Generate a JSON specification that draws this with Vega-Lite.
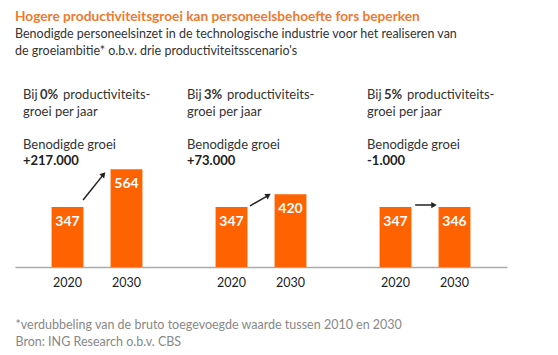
{
  "$schema": "https://vega.github.io/schema/vega-lite/v6.json",
  "width": 492,
  "height": 187,
  "autosize": {"type": "none"},
  "padding": {"left": 15, "top": 80, "right": 51, "bottom": 88},
  "background": "white",
  "config": {"view": {"stroke": null}, "font": "Lato", "text": {"font": "Lato"}},
  "title": {
    "text": "Hogere productiviteitsgroei kan personeelsbehoefte fors beperken",
    "subtitle": ["Benodigde personeelsinzet in de technologische industrie voor het realiseren van", "de groeiambitie*  o.b.v. drie productiviteitsscenario's"],
    "anchor": "start",
    "frame": "group",
    "color": "#EE7A30",
    "font": "Lato",
    "fontSize": 13.7,
    "fontWeight": "bold",
    "subtitleFont": "Lato",
    "subtitleFontSize": 12.5,
    "subtitleColor": "#333333",
    "subtitleLineHeight": 17,
    "subtitlePadding": 4,
    "offset": 23
  },
  "datasets": {
    "bars": [
      {"panel": "0%", "year": "2020", "value": 347},
      {"panel": "0%", "year": "2030", "value": 564},
      {"panel": "3%", "year": "2020", "value": 347},
      {"panel": "3%", "year": "2030", "value": 420},
      {"panel": "5%", "year": "2020", "value": 347},
      {"panel": "5%", "year": "2030", "value": 346}
    ],
    "panels": [
      {"panel": "0%", "growth": "+217.000"},
      {"panel": "3%", "growth": "+73.000"},
      {"panel": "5%", "growth": "-1.000"}
    ]
  },
  "data": {"name": "bars"},
  "layer": [
    {
      "mark": {"type": "bar", "color": "#FF6200"},
      "encoding": {
        "x": {
          "field": "panel", "type": "nominal", "sort": ["0%", "3%", "5%"],
          "scale": {"paddingInner": 0, "paddingOuter": 0},
          "axis": {
            "title": ["*verdubbeling van de bruto toegevoegde waarde tussen 2010 en 2030", "Bron: ING Research o.b.v. CBS"],
            "labels": false, "ticks": false,
            "domainColor": "#AAAAAA", "domainWidth": 1.5,
            "titleAnchor": "start", "titleAlign": "left", "titleBaseline": "top",
            "titlePadding": 51, "titleFont": "Lato", "titleFontSize": 12.5,
            "titleFontWeight": "normal", "titleColor": "#888888", "titleLineHeight": 17
          }
        },
        "xOffset": {"field": "year", "type": "nominal", "scale": {"paddingInner": 0.46, "paddingOuter": 0.62}},
        "y": {"field": "value", "type": "quantitative", "scale": {"domain": [0, 1080], "nice": false}, "axis": null}
      }
    },
    {
      "mark": {"type": "text", "color": "white", "fontWeight": "bold", "fontSize": 14, "baseline": "middle", "dy": 15},
      "encoding": {
        "x": {"field": "panel", "type": "nominal", "sort": ["0%", "3%", "5%"]},
        "xOffset": {"field": "year", "type": "nominal"},
        "y": {"field": "value", "type": "quantitative", "scale": {"domain": [0, 1080], "nice": false}, "axis": null},
        "text": {"field": "value", "type": "nominal"}
      }
    },
    {
      "mark": {"type": "text", "color": "#222222", "fontSize": 12.5, "baseline": "middle", "dy": 16},
      "encoding": {
        "x": {"field": "panel", "type": "nominal", "sort": ["0%", "3%", "5%"]},
        "xOffset": {"field": "year", "type": "nominal"},
        "y": {"datum": 0, "type": "quantitative", "scale": {"domain": [0, 1080], "nice": false}, "axis": null},
        "text": {"field": "year", "type": "nominal"}
      }
    },
    {
      "transform": [{"pivot": "year", "value": "value", "groupby": ["panel"]}],
      "layer": [
        {
          "transform": [{"filter": "datum.panel === '0%'"}],
          "mark": {"type": "rule", "color": "#222222", "strokeWidth": 1.5, "yOffset": -7, "y2Offset": 5},
          "encoding": {
            "x": {"field": "panel", "type": "nominal", "bandPosition": 0.415},
            "x2": {"field": "panel", "bandPosition": 0.54},
            "y": {"field": "2020", "type": "quantitative", "scale": {"domain": [0, 1080], "nice": false}, "axis": null},
            "y2": {"field": "2030"}
          }
        },
        {
          "transform": [{"filter": "datum.panel === '3%'"}],
          "mark": {"type": "rule", "color": "#222222", "strokeWidth": 1.5, "yOffset": -1, "y2Offset": 1},
          "encoding": {
            "x": {"field": "panel", "type": "nominal", "bandPosition": 0.433},
            "x2": {"field": "panel", "bandPosition": 0.545},
            "y": {"field": "2020", "type": "quantitative", "scale": {"domain": [0, 1080], "nice": false}, "axis": null},
            "y2": {"field": "2030"}
          }
        },
        {
          "transform": [{"filter": "datum.panel === '5%'"}],
          "mark": {"type": "rule", "color": "#222222", "strokeWidth": 1.5, "yOffset": -2, "y2Offset": -2},
          "encoding": {
            "x": {"field": "panel", "type": "nominal", "bandPosition": 0.44},
            "x2": {"field": "panel", "bandPosition": 0.555},
            "y": {"field": "2020", "type": "quantitative", "scale": {"domain": [0, 1080], "nice": false}, "axis": null},
            "y2": {"field": "2030"}
          }
        },
        {
          "transform": [{"filter": "datum.panel === '0%'"}],
          "mark": {"type": "point", "shape": "triangle-right", "filled": true, "size": 40, "color": "#222222", "opacity": 1, "angle": -49, "yOffset": 5},
          "encoding": {
            "x": {"field": "panel", "type": "nominal", "bandPosition": 0.54},
            "y": {"field": "2030", "type": "quantitative", "scale": {"domain": [0, 1080], "nice": false}, "axis": null}
          }
        },
        {
          "transform": [{"filter": "datum.panel === '3%'"}],
          "mark": {"type": "point", "shape": "triangle-right", "filled": true, "size": 40, "color": "#222222", "opacity": 1, "angle": -31, "yOffset": 1},
          "encoding": {
            "x": {"field": "panel", "type": "nominal", "bandPosition": 0.545},
            "y": {"field": "2030", "type": "quantitative", "scale": {"domain": [0, 1080], "nice": false}, "axis": null}
          }
        },
        {
          "transform": [{"filter": "datum.panel === '5%'"}],
          "mark": {"type": "point", "shape": "triangle-right", "filled": true, "size": 40, "color": "#222222", "opacity": 1, "angle": 0, "yOffset": -2},
          "encoding": {
            "x": {"field": "panel", "type": "nominal", "bandPosition": 0.555},
            "y": {"field": "2030", "type": "quantitative", "scale": {"domain": [0, 1080], "nice": false}, "axis": null}
          }
        }
      ]
    },
    {
      "data": {"name": "panels"},
      "transform": [{"filter": "datum.panel !== '5%'"}],
      "encoding": {
        "x": {"field": "panel", "type": "nominal", "bandPosition": 0}
      },
      "layer": [
        {"mark": {"type": "text", "text": "Bij", "align": "left", "baseline": "middle", "fontSize": 13, "color": "#333333", "dx": 8},
         "encoding": {"y": {"datum": 994, "type": "quantitative", "scale": {"domain": [0, 1080], "nice": false}, "axis": null}}},
        {"mark": {"type": "text", "align": "left", "baseline": "middle", "fontSize": 13, "fontWeight": "bold", "color": "#333333", "dx": 25},
         "encoding": {"y": {"datum": 994, "type": "quantitative", "scale": {"domain": [0, 1080], "nice": false}, "axis": null}, "text": {"field": "panel", "type": "nominal"}}},
        {"mark": {"type": "text", "text": "productiviteits-", "align": "left", "baseline": "middle", "fontSize": 13, "color": "#333333", "dx": 48},
         "encoding": {"y": {"datum": 994, "type": "quantitative", "scale": {"domain": [0, 1080], "nice": false}, "axis": null}}},
        {"mark": {"type": "text", "text": "groei per jaar", "align": "left", "baseline": "middle", "fontSize": 13, "color": "#333333", "dx": 8},
         "encoding": {"y": {"datum": 895, "type": "quantitative", "scale": {"domain": [0, 1080], "nice": false}, "axis": null}}},
        {"mark": {"type": "text", "text": "Benodigde groei", "align": "left", "baseline": "middle", "fontSize": 13, "color": "#333333", "dx": 8},
         "encoding": {"y": {"datum": 705, "type": "quantitative", "scale": {"domain": [0, 1080], "nice": false}, "axis": null}}},
        {"mark": {"type": "text", "align": "left", "baseline": "middle", "fontSize": 13, "fontWeight": "bold", "color": "#222222", "dx": 8},
         "encoding": {"y": {"datum": 612, "type": "quantitative", "scale": {"domain": [0, 1080], "nice": false}, "axis": null}, "text": {"field": "growth", "type": "nominal"}}}
      ]
    },
    {
      "data": {"name": "panels"},
      "transform": [{"filter": "datum.panel === '5%'"}],
      "encoding": {
        "x": {"field": "panel", "type": "nominal", "bandPosition": 0}
      },
      "layer": [
        {"mark": {"type": "text", "text": "Bij", "align": "left", "baseline": "middle", "fontSize": 13, "color": "#333333", "dx": 24},
         "encoding": {"y": {"datum": 994, "type": "quantitative", "scale": {"domain": [0, 1080], "nice": false}, "axis": null}}},
        {"mark": {"type": "text", "align": "left", "baseline": "middle", "fontSize": 13, "fontWeight": "bold", "color": "#333333", "dx": 41},
         "encoding": {"y": {"datum": 994, "type": "quantitative", "scale": {"domain": [0, 1080], "nice": false}, "axis": null}, "text": {"field": "panel", "type": "nominal"}}},
        {"mark": {"type": "text", "text": "productiviteits-", "align": "left", "baseline": "middle", "fontSize": 13, "color": "#333333", "dx": 64},
         "encoding": {"y": {"datum": 994, "type": "quantitative", "scale": {"domain": [0, 1080], "nice": false}, "axis": null}}},
        {"mark": {"type": "text", "text": "groei per jaar", "align": "left", "baseline": "middle", "fontSize": 13, "color": "#333333", "dx": 24},
         "encoding": {"y": {"datum": 895, "type": "quantitative", "scale": {"domain": [0, 1080], "nice": false}, "axis": null}}},
        {"mark": {"type": "text", "text": "Benodigde groei", "align": "left", "baseline": "middle", "fontSize": 13, "color": "#333333", "dx": 24},
         "encoding": {"y": {"datum": 705, "type": "quantitative", "scale": {"domain": [0, 1080], "nice": false}, "axis": null}}},
        {"mark": {"type": "text", "align": "left", "baseline": "middle", "fontSize": 13, "fontWeight": "bold", "color": "#222222", "dx": 24},
         "encoding": {"y": {"datum": 612, "type": "quantitative", "scale": {"domain": [0, 1080], "nice": false}, "axis": null}, "text": {"field": "growth", "type": "nominal"}}}
      ]
    }
  ]
}
